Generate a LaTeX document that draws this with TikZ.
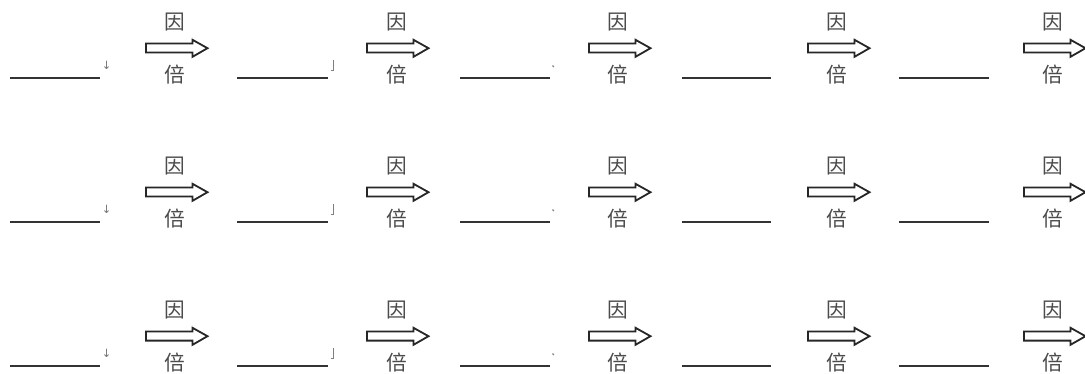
\documentclass[tikz,border=0pt]{standalone}
\usepackage{fontspec}
\newfontfamily\cjk{Noto Sans CJK SC}
\newfontfamily\symf{DejaVu Sans}
\begin{document}
\begin{tikzpicture}[x=0.75pt,y=-0.75pt,
  blank/.style={draw=black!80, line width=0.9pt},
  fatarrow/.style={draw=black!85, line width=1.35pt, fill=white, line join=miter},
  lbl/.style={inner sep=0pt, font=\cjk\fontsize{15.5}{16}\selectfont, text=black!70},
  pmark/.style={draw=black!50, line width=0.7pt},
  pmtext/.style={inner sep=0pt, font=\symf\fontsize{8.5}{9}\selectfont, text=black!55}]
\useasboundingbox (0,0) rectangle (1085,374);
\foreach \r [count=\ri] in {0,144,288} {
  \foreach \ls/\le/\as/\tx [count=\gi] in {10/100/146/175, 237/328/367/397, 460/550/589/618, 682/771/808/837, 899/989/1024/1053} {
    \coordinate (l\ri\gi a) at (\ls,78+\r);
    \coordinate (l\ri\gi b) at (\le,78+\r);
    \draw[blank] (l\ri\gi a) -- (l\ri\gi b);
    \draw[fatarrow] (\as,43.5+\r) -- (\as+46.5,43.5+\r) -- (\as+46.5,39.8+\r) -- (\as+61.5,48.2+\r)
      -- (\as+46.5,56.8+\r) -- (\as+46.5,52.6+\r) -- (\as,52.6+\r) -- cycle;
    \node[lbl] (yin\ri\gi) at (\tx,22+\r) {因};
    \node[lbl] (bei\ri\gi) at (\tx,75+\r) {倍};
  }
  \node[pmtext] (m\ri a) at (106.5,65.5+\r) {↓};
  \coordinate (m\ri b1) at (333,60+\r);
  \coordinate (m\ri b2) at (333,70+\r);
  \coordinate (m\ri b3) at (330.5,70+\r);
  \draw[pmark] (m\ri b1) -- (m\ri b2) -- (m\ri b3);
  \coordinate (m\ri c1) at (552.5,65.5+\r);
  \coordinate (m\ri c2) at (553.8,67+\r);
  \draw[pmark, line width=0.9pt] (m\ri c1) -- (m\ri c2);
}
\end{tikzpicture}
\end{document}
